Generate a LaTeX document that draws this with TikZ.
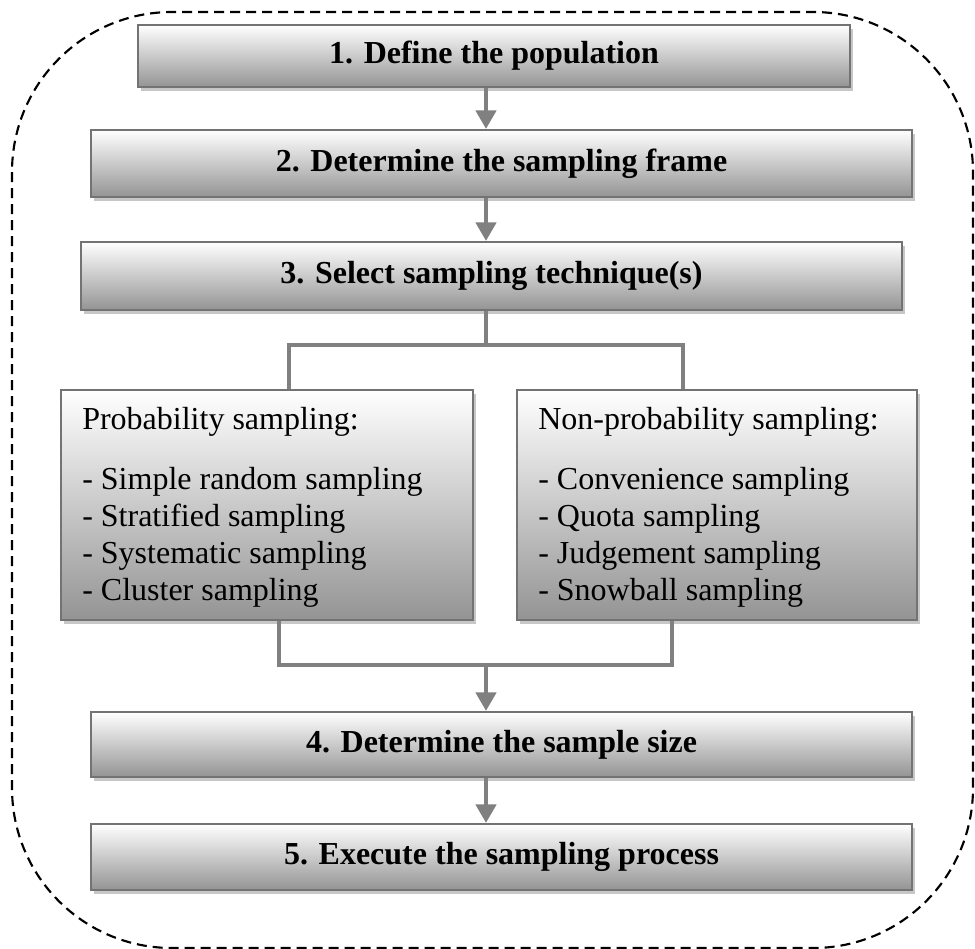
\documentclass[tikz,border=0pt]{standalone}
\usepackage{fontspec}
\setmainfont{Liberation Serif}
\usetikzlibrary{arrows.meta,shadows}

\begin{document}
\begin{tikzpicture}[x=0.75pt,y=-0.75pt,
  boxbase/.style={draw=black!55, line width=1.5pt, top color=white, bottom color=black!42,
    drop shadow={shadow xshift=2.6pt, shadow yshift=-3pt, fill=black!22, opacity=1},
    inner sep=0pt},
  stepbox/.style={boxbase, font=\fontsize{24}{28}\selectfont\bfseries},
  listbox/.style={boxbase},
  listtext/.style={inner sep=0pt, align=left, anchor=north west,
    font=\fontsize{24}{27.75}\selectfont},
  conn/.style={draw=black!50, line width=3.6pt, line join=miter},
  arrowline/.style={conn, -{Triangle[length=14pt,width=15pt]}},
  outline/.style={draw=black, line width=1.6pt, dash pattern=on 7.5pt off 4.5pt}
]
\useasboundingbox (0,0) rectangle (975,949);

% outer dashed frame
\draw[outline, rounded corners=120pt] (12,12) rectangle (973,948);

% main steps
\node[stepbox, minimum width=534pt, minimum height=46.5pt] (b1) at (494,56) {1. Define the population};
\node[stepbox, minimum width=615.75pt, minimum height=50.25pt] (b2) at (501.5,163.5) {2. Determine the sampling frame};
\node[stepbox, minimum width=615.75pt, minimum height=51pt] (b3) at (491.5,276) {3. Select sampling technique(s)};
\node[stepbox, minimum width=615.75pt, minimum height=48.75pt] (b4) at (501.5,744.5) {4. Determine the sample size};
\node[stepbox, minimum width=615.75pt, minimum height=49.5pt] (b5) at (501.5,857) {5. Execute the sampling process};

% technique boxes
\node[listbox, minimum width=309pt, minimum height=172.5pt] (pl) at (267,505) {};
\node[listbox, minimum width=300pt, minimum height=172.5pt] (pr) at (717,505) {};
\node[listtext] (plt) at (82,407) {Probability sampling:\\[17.25pt]- Simple random sampling\\- Stratified sampling\\- Systematic sampling\\- Cluster sampling};
\node[listtext] (prt) at (538,407) {Non-probability sampling:\\[17.25pt]- Convenience sampling\\- Quota sampling\\- Judgement sampling\\- Snowball sampling};

% connector guide points
\coordinate (xc) at (486,0);
\coordinate (split) at (486,345);
\coordinate (lb) at (289,345);
\coordinate (rb) at (683,345);
\coordinate (merge) at (486,665);
\coordinate (jl) at (279,665);
\coordinate (jr) at (672,665);

% connectors
\draw[arrowline] (b1.south -| xc) -- (b2.north -| xc);
\draw[arrowline] (b2.south -| xc) -- (b3.north -| xc);
\draw[conn] (b3.south -| xc) -- (split);
\draw[conn] (pl.north -| lb) |- (split) -| (pr.north -| rb);
\draw[conn] (pl.south -| jl) |- (merge) -| (pr.south -| jr);
\draw[arrowline] (merge) -- (b4.north -| xc);
\draw[arrowline] (b4.south -| xc) -- (b5.north -| xc);
\end{tikzpicture}
\end{document}
